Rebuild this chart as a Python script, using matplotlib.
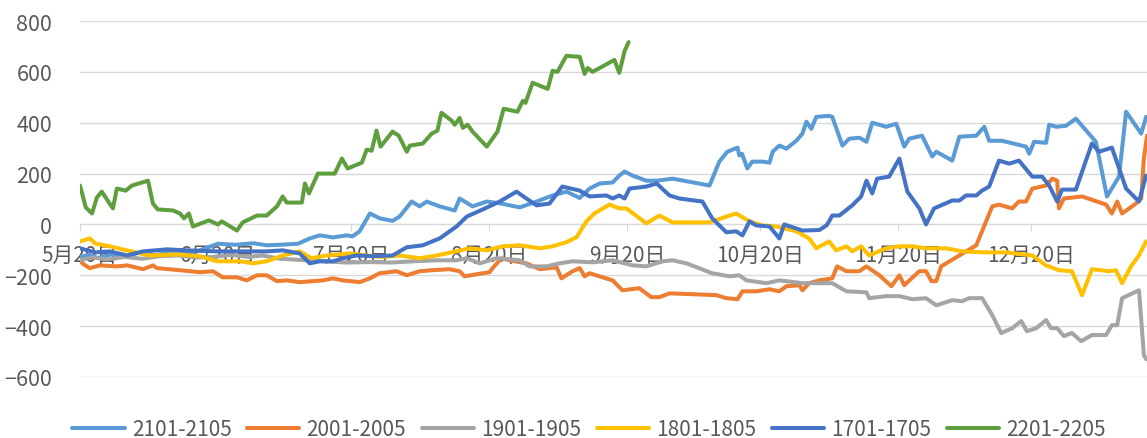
import matplotlib
matplotlib.use("Agg")
import matplotlib.pyplot as plt

# x = days after 5月20日
tick_days = [0, 31, 61, 92, 123, 153, 184, 214]
tick_labels = ["5月20日", "6月20日", "7月20日", "8月20日", "9月20日", "10月20日", "11月20日", "12月20日"]

labels = ["2101-2105", "2001-2005", "1901-1905", "1801-1805", "1701-1705", "2201-2205"]
colors = ["#5B9BD5", "#ED7D31", "#A5A5A5", "#FFC000", "#4472C4", "#5F9E3E"]

d2101 = [0, 2, 4, 7, 10, 13, 17, 21, 25, 28, 31, 35, 39, 42, 45, 49, 51.7, 53.9, 56.9, 60, 61.3, 62.9,
         65.2, 67.4, 70.3, 71.9, 74.6, 76.4, 78, 80.9, 84.3, 85.4, 88.3, 91.5, 94.8, 98.9, 102.7, 106.3,
         109.4, 112.4, 114.6, 116.9, 119.8, 121.3, 122.5, 124.3, 127.4, 129.7, 133.3, 141.6, 143.8, 145.6,
         147.9, 148.3, 148.9, 150.1, 151.2, 153.5, 155.1, 155.8, 157.3, 158.9, 161.1, 162.5, 163.4, 164.5,
         165.6, 168.5, 169.2, 171.5, 173, 175.3, 176.9, 178.2, 181.3, 183.6, 185.4, 186.5, 189.4, 191.7,
         192.6, 196.2, 197.8, 201.6, 203.4, 204.5, 207.4, 212.8, 213.5, 214.6, 217.3, 218, 219.6, 221.8,
         224, 228.5, 231, 233.7, 235.3, 238.7, 239.8]
v2101 = [-128, -120, -132, -118, -128, -112, -120, -108, -115, -95, -76, -80, -74, -82, -80, -76, -55, -43,
         -51, -43, -47, -27, 43, 24, 14, 31, 90, 71, 90, 71, 55, 102, 71, 90, 82, 67, 90, 114, 129, 104, 141,
         161, 165, 192, 208, 192, 172, 172, 180, 153, 247, 286, 302, 271, 278, 220, 247, 247, 243, 286,
         310, 298, 329, 357, 404, 376, 423, 427, 423, 310, 337, 341, 325, 400, 384, 396, 306, 337, 349,
         267, 286, 251, 345, 349, 384, 329, 329, 306, 278, 325, 321, 392, 384, 388, 416, 325, 110, 188,
         443, 357, 423]

d2001 = [0, 1.1, 2.2, 4.5, 8.3, 10.6, 14.2, 16.4, 17.3, 22.5, 27, 29.9, 32.1, 35.3, 37.5, 39.8, 42, 44.3,
         46.5, 49.4, 52.4, 54.6, 56.9, 59.1, 62.9, 65.2, 67.4, 71.2, 73.5, 76.4, 79.3, 83.1, 85.4, 86.5,
         89.2, 92.1, 92.8, 94.8, 96.6, 100.4, 103.4, 107.2, 108.3, 110.8, 112.4, 113.5, 114.6, 119.8, 122,
         125.8, 128.5, 130.3, 132.6, 143.1, 145.4, 147.9, 149, 152.1, 155.1, 157.3, 158.9, 161.8, 162.5,
         164, 166.3, 169.2, 170.3, 172.4, 175.3, 176.9, 179.8, 182.5, 184.3, 185.4, 188.8, 190.3, 191.5,
         192.6, 193.7, 197.8, 201.6, 205.2, 206.7, 209.7, 211.2, 212.8, 214.2, 217.3, 218.7, 219.8, 220.2,
         221.3, 225.4, 230.8, 232.1, 233.3, 234.4, 237.5, 238.7, 239.3, 240]
v2001 = [-145, -160, -172, -161, -165, -161, -176, -161, -172, -180, -188, -184, -208, -208, -220, -200,
         -200, -223, -220, -227, -223, -220, -212, -220, -227, -212, -192, -184, -200, -184, -180, -176,
         -184, -204, -196, -188, -172, -133, -141, -153, -176, -169, -212, -184, -172, -204, -192, -220,
         -259, -251, -286, -286, -271, -278, -290, -294, -263, -263, -255, -263, -243, -239, -259, -231,
         -220, -212, -165, -184, -184, -165, -200, -243, -200, -239, -184, -184, -223, -223, -165, -122,
         -82, 71, 78, 63, 90, 90, 141, 153, 180, 172, 63, 102, 110, 78, 43, 90, 43, 82, 102, 259, 349]

d1901 = [0, 3, 6, 10, 14, 18, 22, 26, 30, 34, 38, 41, 45, 50, 55, 60, 65, 70, 75, 80.2, 84.7, 87, 89.9,
         93.7, 98.9, 101.1, 104.9, 107.9, 110.8, 115.3, 119.8, 124.3, 127.4, 131, 133.3, 136.4, 142.2,
         146.1, 148.3, 149.9, 154.4, 157.3, 162.5, 166.3, 169.2, 172.4, 176.9, 177.5, 181.3, 184.3, 187.2,
         190.3, 192.6, 196.2, 198.4, 200, 202.9, 205.2, 207.2, 209.7, 211.7, 213, 215.1, 217.3, 218.4,
         219.8, 221.3, 223.1, 225.2, 227.6, 230.8, 232.1, 233.3, 234.4, 238.2, 239.3, 239.8]
v1901 = [-140, -130, -138, -128, -135, -125, -122, -130, -128, -120, -128, -122, -135, -140, -145, -150,
         -148, -150, -145, -141, -141, -133, -153, -133, -141, -165, -165, -153, -145, -149, -141, -161,
         -165, -145, -141, -153, -192, -204, -200, -220, -231, -220, -231, -231, -231, -263, -267, -290,
         -282, -282, -294, -290, -318, -298, -302, -290, -290, -357, -427, -408, -380, -420, -408, -376,
         -408, -408, -439, -427, -459, -435, -435, -396, -396, -290, -259, -514, -530]

d1801 = [0, 2.2, 3.4, 6.7, 10, 15.7, 21.8, 27, 30.8, 36, 38.9, 42, 45.6, 49.4, 52.1, 55.5, 60.7, 64.5,
         68, 71.9, 76.4, 80.2, 82.5, 87.6, 91.5, 95.1, 98.9, 103.4, 106.3, 109.4, 111.7, 113.9, 115.7,
         119.1, 121.3, 122.9, 127.4, 130.3, 133.3, 141.6, 145.4, 147.6, 150.6, 153.5, 156.6, 161.1, 164,
         165.6, 168.5, 170.1, 172.4, 173.7, 175.7, 177.5, 181.3, 184.3, 187.2, 190.3, 194.8, 198.4, 203.8,
         208.3, 214.2, 217.3, 220.2, 223.1, 225.4, 227.6, 231.5, 233, 234.4, 236.4, 238.2, 239.8]
v1801 = [-67, -55, -75, -86, -100, -122, -118, -125, -145, -145, -153, -145, -122, -106, -133, -122, -114,
         -122, -128, -122, -133, -122, -114, -94, -102, -86, -82, -94, -86, -70, -50, 12, 43, 78, 63, 63,
         4, 35, 8, 8, 31, 43, 12, -4, -8, -27, -55, -94, -67, -102, -86, -106, -86, -122, -94, -86, -86,
         -94, -94, -106, -110, -110, -122, -161, -180, -184, -278, -176, -184, -180, -231, -165, -122, -67]

d1701 = [0, 3.4, 6.7, 10.6, 14.2, 19.6, 24, 30.8, 38.2, 42, 45.6, 49.4, 51.7, 53.9, 56.9, 59.1, 62.2,
         65.8, 70.3, 73.5, 77.1, 80.9, 84.7, 87, 90.6, 94.4, 98.2, 100.4, 102.7, 105.6, 108.5, 112.4,
         114.6, 118.4, 119.8, 121.3, 122.5, 123.6, 127.4, 129.7, 132.6, 134.8, 140, 142.2, 145.4, 147.6,
         149, 150.6, 152.1, 155.1, 157.3, 158.4, 162.5, 166.3, 167.9, 168.5, 169.2, 170.8, 173.7, 175.7,
         176.9, 178.2, 179.3, 182, 184.3, 186.1, 188.8, 190.3, 192.1, 196.2, 197.8, 199.3, 201.6, 202.9,
         204.5, 206.7, 209, 211.2, 214.2, 216.4, 218, 219.8, 220.9, 224, 227.6, 229.2, 232.1, 235.3, 238.2,
         239.8]
v1701 = [-94, -110, -106, -122, -106, -98, -102, -106, -106, -106, -102, -114, -153, -145, -145, -133,
         -122, -125, -122, -90, -82, -55, -8, 31, 59, 90, 129, 102, 75, 82, 149, 133, 110, 114, 102, 114,
         102, 141, 149, 161, 114, 102, 90, 24, -31, -27, -43, 12, -4, -8, -55, 0, -24, -22, -4, 12, 35, 35,
         75, 110, 172, 122, 180, 188, 259, 129, 63, 0, 63, 94, 94, 114, 114, 133, 149, 251, 239, 251, 188,
         188, 153, 90, 137, 137, 318, 286, 302, 141, 90, 192]

d2201 = [0, 1.3, 2.7, 3.8, 4.9, 7.4, 8.3, 10.3, 11.7, 15.3, 16.4, 17.5, 20.9, 22.5, 23.4, 24.5, 25.4, 29,
         31, 31.9, 35.3, 36.6, 39.8, 42, 44.3, 45.6, 46.5, 49.9, 50.6, 51.5, 53.5, 57.3, 58.9, 60.2, 63.4,
         64.5, 65.6, 66.7, 67.6, 70.3, 71.7, 73.5, 74.2, 77.1, 79.1, 80.4, 81.3, 83.6, 84.3, 85.4, 86.1,
         87.2, 88.3, 91.5, 93.9, 95.3, 98.4, 99.6, 100.2, 101.8, 105.2, 106.3, 107.4, 109.4, 112.4, 113.5,
         114.2, 115.3, 120.2, 121.3, 122.5, 123.4]
v2201 = [153, 67, 43, 106, 129, 63, 141, 133, 153, 172, 82, 59, 55, 43, 24, 43, -8, 16, 0, 12, -24, 8, 35,
         35, 71, 110, 86, 86, 161, 122, 200, 200, 259, 220, 243, 294, 290, 369, 306, 365, 349, 286, 310,
         318, 357, 369, 439, 408, 392, 419, 380, 392, 365, 306, 365, 455, 443, 486, 478, 557, 533, 604,
         600, 663, 659, 592, 615, 600, 647, 596, 682, 717]

days = [d2101, d2001, d1901, d1801, d1701, d2201]
values = [v2101, v2001, v1901, v1801, v1701, v2201]

if __name__ == "__main__":
    plt.rcParams['font.family'] = ['Noto Sans CJK SC', 'DejaVu Sans']
    text_color = "#595959"
    grid_color = "#D9D9D9"

    fig = plt.figure(figsize=(11.47, 4.39), dpi=100)
    ax = fig.add_axes([80 / 1147, 61 / 439, 1067 / 1147, 356 / 439])

    for x, y, lab, c in zip(days, values, labels, colors):
        ax.plot(x, y, color=c, lw=2.9, label=lab, solid_joinstyle='round', solid_capstyle='round')

    ax.set_xlim(0, 240)
    ax.set_ylim(-600, 800)
    ax.set_yticks(range(-600, 801, 200))
    ax.yaxis.grid(True, color=grid_color, lw=1)
    ax.set_axisbelow(True)

    for s in ['top', 'right', 'left']:
        ax.spines[s].set_visible(False)
    ax.spines['bottom'].set_position(('data', 0))
    ax.spines['bottom'].set_color(grid_color)
    ax.spines['bottom'].set_zorder(0.5)

    ax.set_xticks(tick_days)
    ax.set_xticklabels(tick_labels)
    ax.tick_params(axis='x', direction='out', length=5, color=grid_color, pad=9,
                   labelsize=15, labelcolor=text_color)
    ax.tick_params(axis='y', length=0, pad=20, labelsize=15.5, labelcolor=text_color)

    fig.legend(loc='center', bbox_to_anchor=(589 / 1147, 9 / 439), ncol=6, frameon=False,
               fontsize=15, handlelength=2.5, handletextpad=0.35, columnspacing=0.75,
               labelcolor=text_color)

    plt.savefig('out.png', dpi=100)
    plt.close(fig)
